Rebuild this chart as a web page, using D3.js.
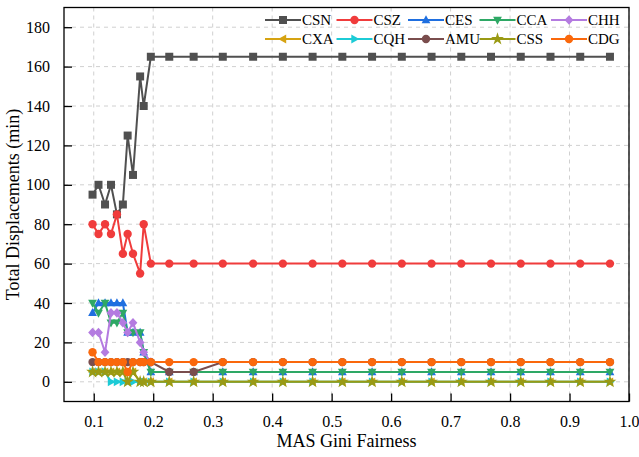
<!DOCTYPE html>
<html><head><meta charset="utf-8">
<script src="https://cdn.jsdelivr.net/npm/d3@7"></script>
<style>body{margin:0;background:#fff}svg{display:block}svg text{font-family:"Liberation Serif","Times New Roman",serif !important}</style>
</head><body><svg id="c" width="639" height="457"></svg>
<script>
const xValues = [0.098,0.108,0.119,0.129,0.139,0.149,0.157,0.166,0.178,0.184,0.196,0.227,0.268,0.317,0.368,0.418,0.468,0.518,0.568,0.618,0.668,0.718,0.768,0.818,0.868,0.918,0.968];
const CSN = [95,100,90,100,85,90,125,105,155,140,165,165,165,165,165,165,165,165,165,165,165,165,165,165,165,165,165];
const CSZ = [80,75,80,75,85,65,75,65,55,80,60,60,60,60,60,60,60,60,60,60,60,60,60,60,60,60,60];
const CES = [35,40,40,40,40,40,25,25,25,15,5,5,5,5,5,5,5,5,5,5,5,5,5,5,5,5,5];
const CCA = [40,35,40,30,30,35,25,25,25,15,5,5,5,5,5,5,5,5,5,5,5,5,5,5,5,5,5];
const CHH = [25,25,15,35,35,30,25,30,20,15,10];
const CXA = [5,5,5,5,5,5,5,5,0,0,0,0,0,0,0,0,0,0,0,0,0,0,0,0,0,0,0];
const CQH = [5,5,5,0,0,0,0,0,0,0,0,0,0,0,0,0,0,0,0,0,0,0,0,0,0,0,0];
const AMU = [10,10,10,10,10,10,10,10,10,10,10,5,5,10,10,10,10,10,10,10,10,10,10,10,10,10,10];
const CSS = [5,5,5,5,5,5,0,5,0,0,0,0,0,0,0,0,0,0,0,0,0,0,0,0,0,0,0];
const CDG = [15,10,10,10,10,10,5,10,10,10,10,10,10,10,10,10,10,10,10,10,10,10,10,10,10,10,10];
const seriesNames = ["CSN","CSZ","CES","CCA","CHH","CXA","CQH","AMU","CSS","CDG"];
const seriesValues = [CSN,CSZ,CES,CCA,CHH,CXA,CQH,AMU,CSS,CDG];
const xTicks = [0.1,0.2,0.3,0.4,0.5,0.6,0.7,0.8,0.9,1.0];
const yTicks = [0,20,40,60,80,100,120,140,160,180];
const xTitle = "MAS Gini Fairness";
const yTitle = "Total Displacements (min)";

const colors = ["#505050","#f03c3c","#1f6fe0","#2ea865","#b47be0","#d6a312","#1ccbd6","#7a4d4d","#9a9a14","#fa680c"];
const shapes = ["square","circle","triUp","triDown","diamond","triLeft","triRight","circle","star","circle"];
const FONT = '"Liberation Serif","Times New Roman",serif';

const svg = d3.select("#c");
const L=64,R=629,T=7.5,B=401.5;
const x = d3.scaleLinear().domain([0.05,1.0]).range([L,R]);
const y = d3.scaleLinear().domain([-10,190]).range([B,T]);

const g = svg.append("g");
g.selectAll(".gx").data(xTicks).enter().append("line")
 .attr("x1",d=>x(d)).attr("x2",d=>x(d)).attr("y1",T).attr("y2",B)
 .attr("stroke","#d0d0d0").attr("stroke-width",1).attr("stroke-dasharray","4,4");
g.selectAll(".gy").data(yTicks).enter().append("line")
 .attr("x1",L).attr("x2",R).attr("y1",d=>y(d)).attr("y2",d=>y(d))
 .attr("stroke","#d0d0d0").attr("stroke-width",1).attr("stroke-dasharray","4,4");

function markerPath(shape, s){
  const r=s/2;
  switch(shape){
    case "square": return `M${-r},${-r}h${s}v${s}h${-s}Z`;
    case "circle": return d3.symbol(d3.symbolCircle, Math.PI*r*r*1.1)();
    case "triUp": return `M0,${-r*1.2}L${r*1.1},${r*0.8}L${-r*1.1},${r*0.8}Z`;
    case "triDown": return `M0,${r*1.2}L${r*1.1},${-r*0.8}L${-r*1.1},${-r*0.8}Z`;
    case "triLeft": return `M${-r*1.2},0L${r*0.8},${-r*1.1}L${r*0.8},${r*1.1}Z`;
    case "triRight": return `M${r*1.2},0L${-r*0.8},${-r*1.1}L${-r*0.8},${r*1.1}Z`;
    case "diamond": return `M0,${-r*1.2}L${r*1.1},0L0,${r*1.2}L${-r*1.1},0Z`;
    case "star": return d3.symbol(d3.symbolStar, s*s*0.8)();
  }
}

const line = d3.line().x(d=>x(d[0])).y(d=>y(d[1]));
seriesValues.forEach((vals,i)=>{
  const pts = vals.map((v,j)=>[xValues[j],v]);
  const sg = svg.append("g");
  sg.append("path").attr("d",line(pts)).attr("fill","none").attr("stroke",colors[i]).attr("stroke-width",2);
  sg.selectAll("path.m").data(pts).enter().append("path").attr("class","m")
    .attr("transform",d=>`translate(${x(d[0])},${y(d[1])})`)
    .attr("d",markerPath(shapes[i],8)).attr("fill",colors[i]);
});

svg.append("rect").attr("x",L).attr("y",T).attr("width",R-L).attr("height",B-T)
 .attr("fill","none").attr("stroke","#000").attr("stroke-width",1.3);

const xAxis = d3.axisBottom(x).tickValues(xTicks).tickFormat(d3.format(".1f")).tickSizeInner(-8).tickSizeOuter(0).tickPadding(14);
const gx = svg.append("g").attr("transform",`translate(0,${B})`).call(xAxis).attr("font-family",FONT).attr("font-size",16);
gx.select(".domain").remove();
gx.selectAll("line").attr("stroke","#000").attr("stroke-width",1.3);
gx.selectAll("text").attr("fill","#000").style("font-family",FONT);

const yAxis = d3.axisLeft(y).tickValues(yTicks).tickSizeInner(-8).tickSizeOuter(0).tickPadding(14);
const gy = svg.append("g").attr("transform",`translate(${L},0)`).call(yAxis).attr("font-family",FONT).attr("font-size",16);
gy.select(".domain").remove();
gy.selectAll("line").attr("stroke","#000").attr("stroke-width",1.3);
gy.selectAll("text").attr("fill","#000").style("font-family",FONT);

svg.append("text").attr("x",(L+R)/2).attr("y",447).attr("text-anchor","middle").attr("font-size",18).style("font-family",FONT).text(xTitle);
svg.append("text").attr("transform",`translate(19,${(T+B)/2}) rotate(-90)`).attr("text-anchor","middle").attr("font-size",18).style("font-family",FONT).text(yTitle);

const legX0 = 265, legDX = 71.5, legY = [20,39];
seriesNames.forEach((n,i)=>{
  const col=i%5,row=Math.floor(i/5);
  const lx=legX0+col*legDX, ly=legY[row];
  const lg=svg.append("g");
  lg.append("line").attr("x1",lx).attr("x2",lx+36).attr("y1",ly).attr("y2",ly).attr("stroke",colors[i]).attr("stroke-width",2);
  lg.append("path").attr("transform",`translate(${lx+18},${ly})`).attr("d",markerPath(shapes[i],8)).attr("fill",colors[i]);
  lg.append("text").attr("x",lx+37).attr("y",ly).attr("dy","0.35em").attr("font-size",15).style("font-family",FONT).text(n);
});
</script></body></html>
